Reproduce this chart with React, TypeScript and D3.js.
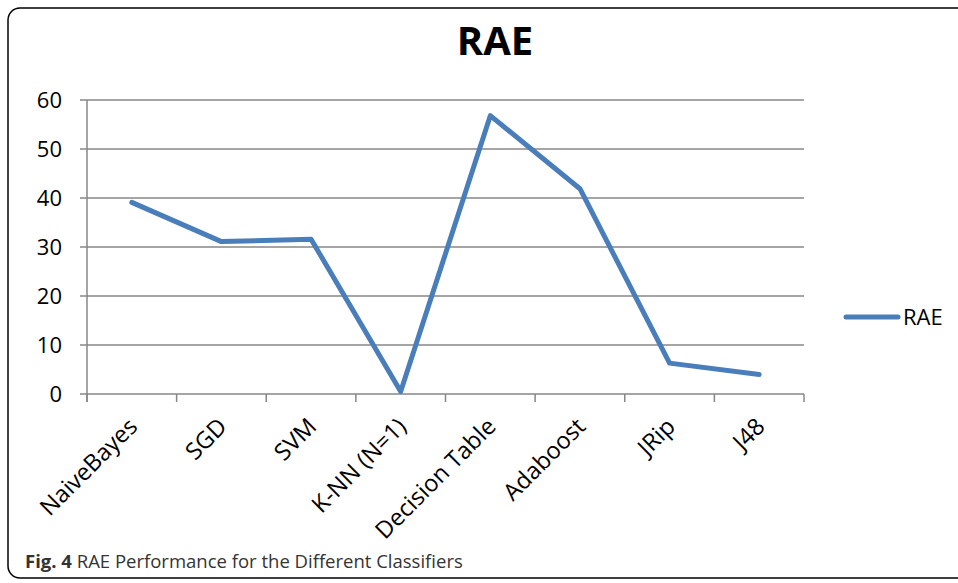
import React from "react";
import * as d3 from "d3";

const categories = ["NaiveBayes", "SGD", "SVM", "K-NN (N=1)", "Decision Table", "Adaboost", "JRip", "J48"];
const raeValues = [39.1, 31.1, 31.6, 0.5, 56.8, 41.9, 6.3, 4.0];
const yTicks = [0, 10, 20, 30, 40, 50, 60];
const seriesName = "RAE";
const chartTitle = "RAE";
const captionBold = "Fig. 4";
const captionText = " RAE Performance for the Different Classifiers";

const W = 958;
const H = 583;
const plot = { left: 87, right: 804, top: 100, bottom: 394 };
const FONT = "'Open Sans', 'DejaVu Sans', sans-serif";
const GRID = "#878787";
const BLUE = "#4a7ebb";

export default function App() {
  const x = d3.scaleBand<string>().domain(categories).range([plot.left, plot.right]).padding(0);
  const y = d3.scaleLinear().domain([0, 60]).range([plot.bottom, plot.top]);
  const line = d3
    .line<number>()
    .x((_, i) => (x(categories[i]) as number) + x.bandwidth() / 2)
    .y((d) => y(d));

  const edges = categories.map((c) => x(c) as number).concat([plot.right]);

  return (
    <svg width={W} height={H} style={{ position: "absolute", left: 0, top: 0 }}>
      <rect x={0} y={0} width={W} height={H} fill="#fff" />
      <rect x={8} y={8} width={W + 10} height={570} rx={12} ry={12} fill="none" stroke="#000" strokeWidth={1.5} />
      <text x={495} y={55} textAnchor="middle" fontFamily={FONT} fontWeight="bold" fontSize={40} fill="#000">
        {chartTitle}
      </text>
      {yTicks.map((t) => (
        <g key={t}>
          <line x1={80} x2={plot.right} y1={y(t)} y2={y(t)} stroke={GRID} strokeWidth={1.5} />
          <text x={62} y={y(t)} dy="0.36em" textAnchor="end" fontFamily={FONT} fontSize={22} fill="#000">
            {t}
          </text>
        </g>
      ))}
      <line x1={plot.left} x2={plot.left} y1={plot.top} y2={plot.bottom + 8} stroke={GRID} strokeWidth={1.5} />
      {edges.map((e, i) => (
        <line key={i} x1={e} x2={e} y1={plot.bottom} y2={plot.bottom + 8} stroke={GRID} strokeWidth={1.5} />
      ))}
      {categories.map((c) => {
        const cx = (x(c) as number) + x.bandwidth() / 2 + 7;
        const cy = 428;
        return (
          <text
            key={c}
            transform={`translate(${cx},${cy}) rotate(-45)`}
            textAnchor="end"
            fontFamily={FONT}
            fontSize={23.5}
            fill="#000"
          >
            {c}
          </text>
        );
      })}
      <path d={line(raeValues) || ""} fill="none" stroke={BLUE} strokeWidth={5} strokeLinejoin="round" strokeLinecap="round" />
      <line x1={846} x2={898} y1={317} y2={317} stroke={BLUE} strokeWidth={5} strokeLinecap="round" />
      <text x={903} y={317} dy="0.36em" fontFamily={FONT} fontSize={22} fill="#000">
        {seriesName}
      </text>
      <text x={25} y={568} fontFamily={FONT} fontSize={18.5} fill="#333">
        <tspan fontWeight="bold">{captionBold}</tspan>
        <tspan>{captionText}</tspan>
      </text>
    </svg>
  );
}
